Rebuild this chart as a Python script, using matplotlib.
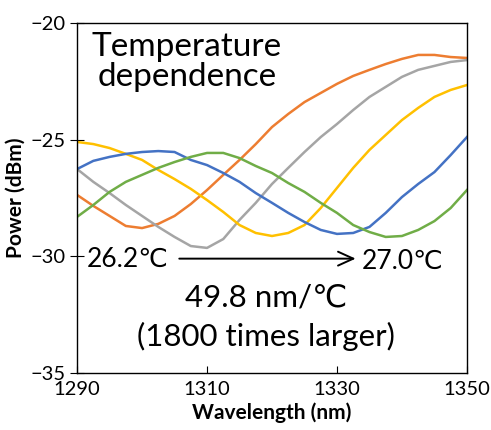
import matplotlib.pyplot as plt

plt.rcParams['font.family'] = ['Lato', 'DejaVu Sans']

# wavelength grid (nm) and measured spectra (dBm), one list per temperature step
wavelength = [1290, 1292.5, 1295, 1297.5, 1300, 1302.5, 1305, 1307.5, 1310, 1312.5,
              1315, 1317.5, 1320, 1322.5, 1325, 1327.5, 1330, 1332.5, 1335, 1337.5,
              1340, 1342.5, 1345, 1347.5, 1350]

orange = [-27.37, -27.84, -28.27, -28.70, -28.79, -28.61, -28.27, -27.76, -27.16, -26.51,
          -25.87, -25.19, -24.46, -23.90, -23.39, -23.00, -22.61, -22.27, -22.01, -21.76,
          -21.54, -21.37, -21.37, -21.46, -21.50]
gray = [-26.26, -26.81, -27.29, -27.80, -28.27, -28.74, -29.17, -29.56, -29.64, -29.26,
        -28.44, -27.71, -26.90, -26.21, -25.53, -24.89, -24.33, -23.73, -23.17, -22.74,
        -22.31, -22.01, -21.84, -21.67, -21.59]
yellow = [-25.10, -25.19, -25.36, -25.61, -25.87, -26.30, -26.69, -27.11, -27.59, -28.10,
          -28.66, -29.00, -29.13, -29.00, -28.66, -27.93, -27.07, -26.21, -25.44, -24.80,
          -24.16, -23.64, -23.17, -22.87, -22.66]
blue = [-26.26, -25.91, -25.74, -25.61, -25.53, -25.49, -25.53, -25.87, -26.09, -26.43,
        -26.81, -27.29, -27.71, -28.14, -28.53, -28.87, -29.04, -29.00, -28.74, -28.14,
        -27.46, -26.90, -26.39, -25.66, -24.89]
green = [-28.31, -27.80, -27.24, -26.81, -26.51, -26.21, -25.96, -25.74, -25.57, -25.57,
         -25.79, -26.13, -26.43, -26.86, -27.24, -27.71, -28.14, -28.66, -28.96, -29.17,
         -29.13, -28.87, -28.49, -27.93, -27.16]

series = [orange, gray, yellow, blue, green]
colors = ['#ED7D31', '#A5A5A5', '#FFC000', '#4472C4', '#70AD47']

fig = plt.figure(figsize=(4.91, 4.30), dpi=100)
ax = fig.add_axes([0.157, 0.1326, 0.794, 0.814])

for s, c in zip(series, colors):
    ax.plot(wavelength, s, color=c, lw=1.8)

ax.set_xlim(1290, 1350)
ax.set_ylim(-35, -20)
ax.set_xticks([1290, 1310, 1330, 1350])
ax.set_yticks([-35, -30, -25, -20])
ax.tick_params(axis='x', direction='in', length=5, labelsize=14.5, pad=6)
ax.tick_params(axis='y', direction='inout', length=10, labelsize=14.5, pad=3)
for sp in ax.spines.values():
    sp.set_linewidth(1.0)

ax.set_xlabel('Wavelength (nm)', fontsize=15, fontweight='bold', labelpad=3)
ax.set_ylabel('Power (dBm)', fontsize=15, fontweight='bold', labelpad=4)

ax.text(1306.9, -21.67, 'Temperature\ndependence', fontsize=24, ha='center', va='center',
        linespacing=0.98)
ax.text(1291.5, -30.15, '26.2\u2103', fontsize=19, ha='left', va='center')
ax.text(1333.8, -30.2, '27.0\u2103', fontsize=19, ha='left', va='center')
ax.annotate('', xy=(1333.3, -30.1), xytext=(1305.3, -30.1),
            arrowprops=dict(arrowstyle='->,head_length=1.1,head_width=0.5', lw=1.4, color='black'))
ax.text(1319.1, -32.6, '49.8 nm/\u2103\n(1800 times larger)', fontsize=22.5, ha='center',
        va='center', linespacing=1.42)

fig.savefig('out.png', dpi=100)
